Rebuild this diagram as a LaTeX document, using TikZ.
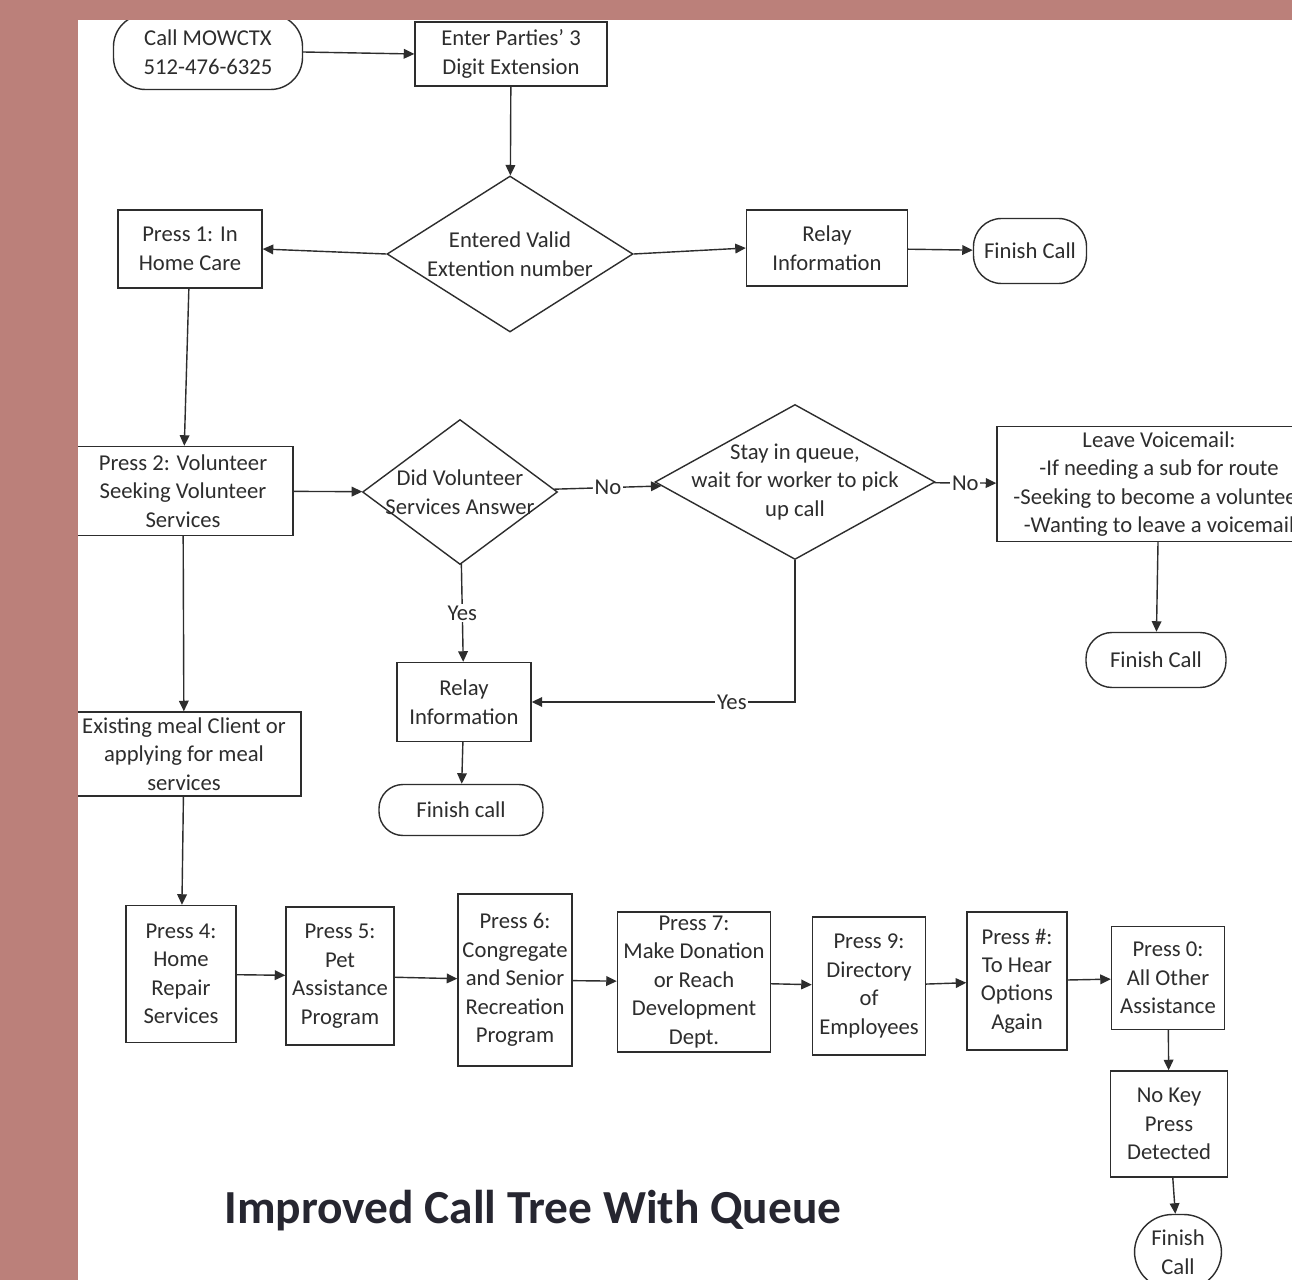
\documentclass[tikz,border=0pt]{standalone}
\usepackage{fontspec}
\setmainfont{Carlito}
\usepackage{tikz}
\usetikzlibrary{arrows.meta, shapes.geometric}

\definecolor{rose}{RGB}{187,128,122}
\definecolor{ink}{RGB}{45,45,45}
\definecolor{titleink}{RGB}{38,38,48}

\begin{document}
\begin{tikzpicture}[>={Triangle[length=6pt,width=5.5pt]}, x=0.02cm, y=-0.02cm,
    every node/.style={font=\fontsize{12.9}{16.2}\selectfont, text=ink, align=center, inner sep=0pt},
    box/.style 2 args={draw=ink, line width=0.8pt, minimum width=#1*\px, minimum height=#2*\px},
    term/.style n args={3}{draw=ink, line width=0.8pt, rounded corners=#3*\px, minimum width=#1*\px, minimum height=#2*\px},
    decision/.style 2 args={diamond, draw=ink, line width=0.8pt, minimum width=#1*\px, minimum height=#2*\px},
    link/.style={draw=ink, line width=0.8pt, ->},
    tag/.style={fill=white, inner sep=1pt}]
    % one pixel of the page
    \def\px{0.02cm}

    % page and margins
    \useasboundingbox (0,0) rectangle (1292,1280);
    \clip (0,0) rectangle (1292,1280);
    \fill[white] (0,0) rectangle (1292,1280);

    % top: extension
    \node[term={189}{75}{32}] (call) at (208,52) {Call MOWCTX\\512-476-6325};
    \node[box={192}{64}] (enter) at (511,54) {Enter Parties' 3\\Digit Extension};
    \node[decision={246}{156}, label={center:{Entered Valid\\Extention number}}] (valid) at (510,254) {};
    \node[box={144}{78}] (press1) at (190,249) {Press 1: In\\Home Care};
    \node[box={161}{76}] (relay1) at (827,248) {Relay\\Information};
    \node[term={113}{65}{28}] (fin1) at (1030,251) {Finish Call};

    % middle: volunteer queue
    \node[box={220}{89}] (press2) at (183,491) {Press 2: Volunteer\\Seeking Volunteer\\Services};
    \node[decision={195}{145}, label={center:{Did Volunteer\\Services Answer}}] (didvol) at (460,492) {};
    \node[decision={280}{155}, label={center:{Stay in queue,\\wait for worker to pick\\up call}}] (queue) at (795,482) {};
    \node[box={324}{115}] (voice) at (1159,484) {Leave Voicemail:\\-If needing a sub for route\\-Seeking to become a volunteer\\-Wanting to leave a voicemail};
    \node[term={140}{55}{26}] (fin2) at (1156,660) {Finish Call};
    \node[box={134}{79}] (relay2) at (464,702) {Relay\\Information};
    \node[term={164}{51}{24}] (fin3) at (461,810) {Finish call};
    \node[box={234}{84}] (meal) at (184,754) {Existing meal Client or\\applying for meal\\services};

    % bottom: other keys
    \node[box={110}{137}] (p4) at (181,974) {Press 4:\\Home\\Repair\\Services};
    \node[box={108}{138}] (p5) at (340,976) {Press 5:\\Pet\\Assistance\\Program};
    \node[box={114}{172}] (p6) at (515,980) {Press 6:\\Congregate\\and Senior\\Recreation\\Program};
    \node[box={153}{140}] (p7) at (694,982) {Press 7:\\Make Donation\\or Reach\\Development\\Dept.};
    \node[box={113}{138}] (p9) at (869,986) {Press 9:\\Directory\\of\\Employees};
    \node[box={100}{138}] (phash) at (1017,981) {Press \#:\\To Hear\\Options\\Again};
    \node[box={113}{103}] (p0) at (1168,978) {Press 0:\\All Other\\Assistance};
    \node[box={117}{106}] (nokey) at (1169,1124) {No Key\\Press\\Detected};
    \node[term={87}{75}{38}] (fin4) at (1178,1252) {Finish\\Call};

    % title
    \node[font=\fontsize{27}{32}\selectfont\bfseries, text=titleink] (title) at (533,1211) {Improved Call Tree With Queue};

    % connectors
    \draw[link] (call.east) -- (enter.west);
    \draw[link] (enter) -- (valid);
    \draw[link] (valid.west) -- (press1.east);
    \draw[link] (valid.east) -- (relay1.west);
    \draw[link] (relay1) -- (fin1);
    \draw[link] (press1) -- (press2);
    \draw[link] (press2) -- (didvol);
    \draw[link] (didvol) -- node[tag] {No} (queue);
    \draw[link] (queue) -- node[tag] {No} (voice);
    \draw[link] (voice) -- (fin2);
    \draw[link] (didvol) -- node[tag] {Yes} (relay2);
    \draw[link] (queue.south) |- node[tag, pos=0.62] {Yes} (relay2.east);
    \draw[link] (relay2) -- (fin3);
    \draw[link] (press2) -- (meal);
    \draw[link] (meal) -- (p4);
    \foreach \a/\b in {p4/p5, p5/p6, p6/p7, p7/p9, p9/phash, phash/p0}
        \draw[link] (\a) -- (\b);
    \draw[link] (p0) -- (nokey);
    \draw[link] (nokey) -- (fin4);

    % margins on top
    \fill[rose] (0,0) rectangle (78,1280);
    \fill[rose] (0,0) rectangle (1292,20);
\end{tikzpicture}
\end{document}
